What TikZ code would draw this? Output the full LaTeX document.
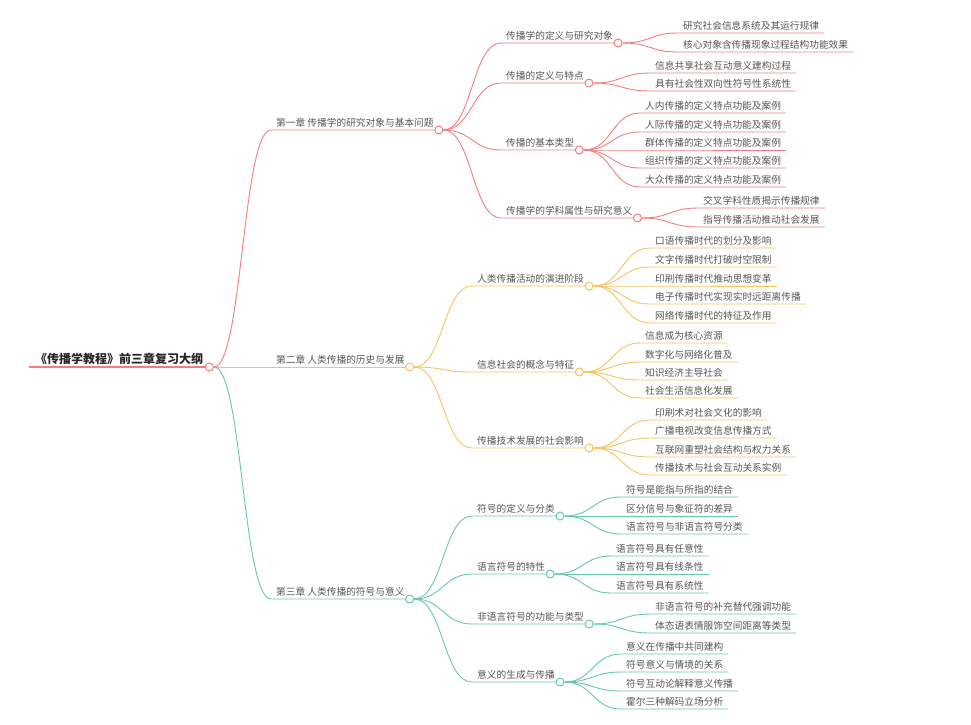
\documentclass[tikz,border=0pt]{standalone}
\usepackage{fontspec}
\newfontfamily\cjk{Noto Sans CJK SC}
\usetikzlibrary{calc}
\usepackage{xcolor}
\definecolor{redline}{HTML}{F47C7E}
\definecolor{orangeline}{HTML}{F7C260}
\definecolor{greenline}{HTML}{66C9A1}
\definecolor{textgray}{HTML}{555555}

\begin{document}
\begin{tikzpicture}[%
    x=1pt, y=-1pt,
    every node/.style = {font=\cjk\fontsize{9.7}{11}\selectfont, text=textgray},
    topic/.style = {anchor=south west, inner xsep=5pt, inner ysep=2pt, text height=8pt, text depth=1pt},
    dot/.style = {circle, draw, fill=white, inner sep=0pt, minimum size=8pt, line width=1pt},
    branch/.style = {line width=0.9pt, to path={let \p1=(\tikztostart), \p2=(\tikztotarget) in
        .. controls ({(\x1+\x2)/2},\y1) and ({(\x1+\x2)/2},\y2) .. (\tikztotarget)}}
]
\useasboundingbox (0,0) rectangle (971,724);

% root
\node[topic, inner xsep=6pt, text height=10pt, font=\cjk\bfseries\fontsize{12}{14}\selectfont, text=black!85] (root) at (29,367) {《传播学教程》前三章复习大纲};
\draw[redline, line width=1.6pt] (root.south west) -- (root.south east);
\node[dot, draw=redline] (c0) at (root.south east) {};

% chapters
\node[topic] (ch1) at (271,130) {第一章 传播学的研究对象与基本问题};
\node[topic] (ch2) at (271,367) {第二章 人类传播的历史与发展};
\node[topic] (ch3) at (271,599) {第三章 人类传播的符号与意义};
\draw[branch, redline] (c0.east) to (ch1.south west) -- (ch1.south east);
\draw[branch, orangeline] (c0.east) to (ch2.south west) -- (ch2.south east);
\draw[branch, greenline] (c0.east) to (ch3.south west) -- (ch3.south east);
\node[dot, draw=redline] (c1) at (ch1.south east) {};
\node[dot, draw=orangeline] (c2) at (ch2.south east) {};
\node[dot, draw=greenline] (c3) at (ch3.south east) {};

% chapter 1
\foreach \y/\t [count=\i] in {43/传播学的定义与研究对象, 83/传播的定义与特点, 150/传播的基本类型, 218/传播学的学科属性与研究意义} {
    \node[topic] (t1\i) at (501,\y) {\t};
    \draw[branch, redline] (c1.east) to (t1\i.south west) -- (t1\i.south east);
    \node[dot, draw=redline] (c1\i) at (t1\i.south east) {};
}
\foreach \y/\t [count=\i] in {33/研究社会信息系统及其运行规律, 52/核心对象含传播现象过程结构功能效果} {
    \node[topic] (l11\i) at (678,\y) {\t};
    \draw[branch, redline] (c11.east) to (l11\i.south west) -- (l11\i.south east);
}
\foreach \y/\t [count=\i] in {73/信息共享社会互动意义建构过程, 91/具有社会性双向性符号性系统性} {
    \node[topic] (l12\i) at (650,\y) {\t};
    \draw[branch, redline] (c12.east) to (l12\i.south west) -- (l12\i.south east);
}
\foreach \y/\t [count=\i] in {113/人内传播的定义特点功能及案例, 132/人际传播的定义特点功能及案例, 150/群体传播的定义特点功能及案例, 168/组织传播的定义特点功能及案例, 187/大众传播的定义特点功能及案例} {
    \node[topic] (l13\i) at (640,\y) {\t};
    \draw[branch, redline] (c13.east) to (l13\i.south west) -- (l13\i.south east);
}
\foreach \y/\t [count=\i] in {208/交叉学科性质揭示传播规律, 227/指导传播活动推动社会发展} {
    \node[topic] (l14\i) at (698,\y) {\t};
    \draw[branch, redline] (c14.east) to (l14\i.south west) -- (l14\i.south east);
}

% chapter 2
\foreach \y/\t [count=\i] in {286/人类传播活动的演进阶段, 372/信息社会的概念与特征, 448/传播技术发展的社会影响} {
    \node[topic] (t2\i) at (472,\y) {\t};
    \draw[branch, orangeline] (c2.east) to (t2\i.south west) -- (t2\i.south east);
    \node[dot, draw=orangeline] (c2\i) at (t2\i.south east) {};
}
\foreach \y/\t [count=\i] in {248/口语传播时代的划分及影响, 267/文字传播时代打破时空限制, 286/印刷传播时代推动思想变革, 304/电子传播时代实现实时远距离传播, 323/网络传播时代的特征及作用} {
    \node[topic] (l21\i) at (650,\y) {\t};
    \draw[branch, orangeline] (c21.east) to (l21\i.south west) -- (l21\i.south east);
}
\foreach \y/\t [count=\i] in {343/信息成为核心资源, 362/数字化与网络化普及, 380/知识经济主导社会, 398/社会生活信息化发展} {
    \node[topic] (l22\i) at (640,\y) {\t};
    \draw[branch, orangeline] (c22.east) to (l22\i.south west) -- (l22\i.south east);
}
\foreach \y/\t [count=\i] in {420/印刷术对社会文化的影响, 438/广播电视改变信息传播方式, 457/互联网重塑社会结构与权力关系, 475/传播技术与社会互动关系实例} {
    \node[topic] (l23\i) at (650,\y) {\t};
    \draw[branch, orangeline] (c23.east) to (l23\i.south west) -- (l23\i.south east);
}

% chapter 3
\foreach \y/\t [count=\i] in {516/符号的定义与分类, 574/语言符号的特性, 624/非语言符号的功能与类型, 682/意义的生成与传播} {
    \node[topic] (t3\i) at (472,\y) {\t};
    \draw[branch, greenline] (c3.east) to (t3\i.south west) -- (t3\i.south east);
    \node[dot, draw=greenline] (c3\i) at (t3\i.south east) {};
}
\foreach \y/\t [count=\i] in {497/符号是能指与所指的结合, 516/区分信号与象征符的差异, 534/语言符号与非语言符号分类} {
    \node[topic] (l31\i) at (621,\y) {\t};
    \draw[branch, greenline] (c31.east) to (l31\i.south west) -- (l31\i.south east);
}
\foreach \y/\t [count=\i] in {556/语言符号具有任意性, 574/语言符号具有线条性, 593/语言符号具有系统性} {
    \node[topic] (l32\i) at (611,\y) {\t};
    \draw[branch, greenline] (c32.east) to (l32\i.south west) -- (l32\i.south east);
}
\foreach \y/\t [count=\i] in {614/非语言符号的补充替代强调功能, 633/体态语表情服饰空间距离等类型} {
    \node[topic] (l33\i) at (650,\y) {\t};
    \draw[branch, greenline] (c33.east) to (l33\i.south west) -- (l33\i.south east);
}
\foreach \y/\t [count=\i] in {654/意义在传播中共同建构, 672/符号意义与情境的关系, 691/符号互动论解释意义传播, 709/霍尔三种解码立场分析} {
    \node[topic] (l34\i) at (621,\y) {\t};
    \draw[branch, greenline] (c34.east) to (l34\i.south west) -- (l34\i.south east);
}
\end{tikzpicture}
\end{document}
